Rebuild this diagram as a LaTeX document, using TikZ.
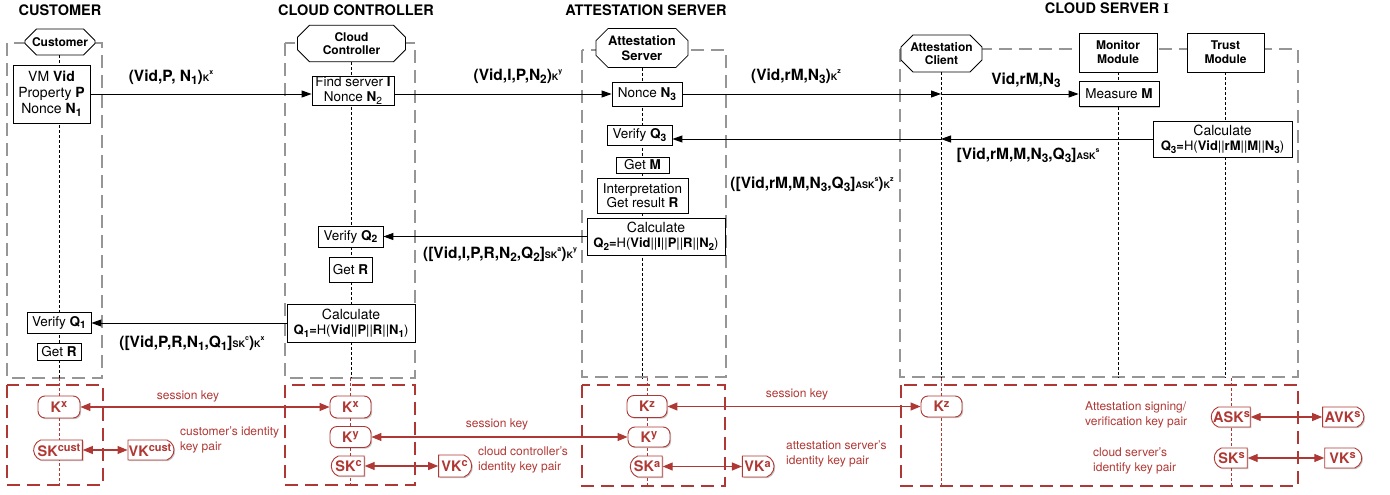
\documentclass[tikz,border=0pt]{standalone}
\usepackage{fontspec}
\setmainfont{TeX Gyre Heros}
\newfontfamily\serifI{Liberation Serif}
\usetikzlibrary{shapes.misc,arrows.meta,shadows,backgrounds}
\definecolor{keyred}{RGB}{176,56,52}
\definecolor{grpgray}{RGB}{150,150,150}
% index helpers
\newcommand\lo[1]{\raisebox{-0.38ex}{\scalebox{0.76}{#1}}}
\newcommand\ksup[1]{\raisebox{0.62ex}{\fontsize{11}{11}\selectfont #1}}
\newcommand\kk[2]{{\fontsize{9}{9}\selectfont #1}\raisebox{0.75ex}{\fontsize{7}{7}\selectfont #2}}

\begin{document}
\begin{tikzpicture}[x=1pt,y=-1pt,
  title/.style={font=\bfseries\fontsize{14.5}{16}\selectfont, inner sep=0pt},
  softshadow/.style={drop shadow={shadow xshift=1.2pt, shadow yshift=-1.2pt, opacity=0.22, fill=black}},
  head/.style={draw, line width=0.8pt, fill=white, chamfered rectangle,
    chamfered rectangle xsep=6pt, chamfered rectangle ysep=6pt, align=center,
    font=\bfseries\fontsize{12}{13.5}\selectfont, inner sep=1pt},
  headbox/.style={draw, line width=0.8pt, fill=white, rectangle, align=center,
    font=\bfseries\fontsize{12}{14}\selectfont, inner sep=1pt, softshadow},
  act/.style={draw, line width=0.8pt, fill=white, align=center,
    font=\fontsize{13.5}{14.5}\selectfont, inner xsep=3pt, inner ysep=1pt, softshadow},
  calc/.style={act, font=\fontsize{13}{15}\selectfont},
  msg/.style={line width=0.9pt, -{Triangle[length=10pt,width=7pt]}},
  mlabel/.style={font=\bfseries\fontsize{15.5}{17}\selectfont, inner sep=0pt},
  grpbox/.style={draw=grpgray, line width=2.6pt, dash pattern=on 13pt off 7pt},
  keybox/.style={draw=keyred, line width=2.6pt, dash pattern=on 13pt off 7pt},
  life/.style={line width=0.7pt, dash pattern=on 3pt off 2pt},
  keylife/.style={draw=keyred, line width=0.7pt, dash pattern=on 3pt off 2pt},
  key/.style={draw=keyred, text=keyred, fill=white, line width=0.9pt,
    font=\bfseries\fontsize{14.5}{14.5}\selectfont, inner xsep=2pt, inner ysep=1pt, softshadow},
  kround/.style={key, rectangle, rounded corners=7pt},
  kleft/.style={key, rounded rectangle, rounded rectangle right arc=none,
    rounded rectangle arc length=140},
  kright/.style={key, rounded rectangle, rounded rectangle left arc=none,
    rounded rectangle arc length=140},
  keyarrow/.style={draw=keyred, line width=1.1pt,
    {Triangle[length=10pt,width=8pt]}-{Triangle[length=10pt,width=8pt]}},
  keynote/.style={text=keyred, font=\fontsize{12}{15}\selectfont, align=left, inner sep=0pt}
]
\useasboundingbox (0,0) rectangle (1390,495);

% column titles
\node[title] (tcust) at (60,10) {CUSTOMER};
\node[title] (tctrl) at (356,10) {CLOUD CONTROLLER};
\node[title] (tatt) at (646,10) {ATTESTATION SERVER};
\node[title] (tsrv) at (1107,8) {CLOUD SERVER {\serifI I}};

% participants
\node[head, minimum width=70, minimum height=26] (hcust) at (60,42) {Customer};
\node[head, minimum width=108, minimum height=29] (hctrl) at (351.5,43.5) {Cloud\\Controller};
\node[head, minimum width=92, minimum height=38, font=\bfseries\fontsize{13}{15}\selectfont] (hatt) at (642,48) {Attestation\\Server};
\node[head, minimum width=81, minimum height=37] (hcli) at (941.5,53.5) {Attestation\\Client};
\node[headbox, minimum width=78, minimum height=39] (hmon) at (1118,52.5) {Monitor\\Module};
\node[headbox, minimum width=77, minimum height=39] (htru) at (1225.5,52.5) {Trust\\Module};

% activity boxes
\node[act, minimum width=77, minimum height=58, font=\fontsize{14}{16}\selectfont] (vm) at (51.5,94)
  {VM \textbf{Vid}\\Property \textbf{P}\\Nonce \textbf{N\lo{1}}};
\node[act, minimum width=82, minimum height=29] (find) at (353,90.5)
  {Find server \textbf{I}\\Nonce \textbf{N}\lo{2}};
\node[act, minimum width=70, minimum height=24] (nonce3) at (647,94) {Nonce \textbf{N\lo{3}}};
\node[act, minimum width=80, minimum height=25] (measure) at (1119,94) {Measure \textbf{M}};
\node[calc, minimum width=139, minimum height=36] (calc3) at (1222.5,139)
  {{\fontsize{14}{15}\selectfont Calculate}\\\textbf{Q\lo{3}=}H(\textbf{Vid}||\textbf{rM}||\textbf{M}||\textbf{N\lo{3}})};
\node[act, minimum width=65, minimum height=20] (verify3) at (639.5,135) {Verify \textbf{Q\lo{3}}};
\node[act, minimum width=53, minimum height=16] (getm) at (642.5,165) {Get \textbf{M}};
\node[act, minimum width=91, minimum height=35] (interp) at (642.5,195.5) {Interpretation\\Get result \textbf{R}};
\node[calc, minimum width=138, minimum height=37] (calc2) at (656,236.5)
  {{\fontsize{14}{15}\selectfont Calculate}\\\textbf{Q\lo{2}=}H(\textbf{Vid}||\textbf{I}||\textbf{P}||\textbf{R}||\textbf{N\lo{2}})};
\node[act, minimum width=65, minimum height=21] (verify2) at (350.5,236.5) {Verify \textbf{Q\lo{2}}};
\node[act, minimum width=43, minimum height=25] (getr2) at (350.5,269.5) {Get \textbf{R}};
\node[calc, minimum width=128, minimum height=38] (calc1) at (351,323)
  {{\fontsize{14}{15}\selectfont Calculate}\\\textbf{Q\lo{1}=}H(\textbf{Vid}||\textbf{P}||\textbf{R}||\textbf{N\lo{1}})};
\node[act, minimum width=64, minimum height=21] (verify1) at (59,322.5) {Verify \textbf{Q\lo{1}}};
\node[act, minimum width=44, minimum height=17] (getr1) at (59,351.5) {Get \textbf{R}};

% keys
\node[kround, minimum width=42, minimum height=22] (kx1) at (59,407) {K\ksup{x}};
\node[kleft, minimum width=48, minimum height=20] (sk1) at (59,450) {SK\ksup{cust}};
\node[kright, minimum width=50, minimum height=20] (vk1) at (150,450) {VK\ksup{cust}};
\node[kround, minimum width=41, minimum height=22] (kx2) at (350.5,407) {K\ksup{x}};
\node[kround, minimum width=41, minimum height=21] (ky2) at (350.5,437) {K\ksup{y}};
\node[kleft, minimum width=37, minimum height=20] (sk2) at (348.5,466) {SK\ksup{c}};
\node[kright, minimum width=37, minimum height=22] (vk2) at (454.5,466) {VK\ksup{c}};
\node[kround, minimum width=40, minimum height=22] (kz3) at (647,406.5) {K\ksup{z}};
\node[kround, minimum width=42, minimum height=20] (ky3) at (649,437) {K\ksup{y}};
\node[kleft, minimum width=36, minimum height=21] (sk3) at (647,466.5) {SK\ksup{a}};
\node[kright, minimum width=31, minimum height=21] (vk3) at (757.5,466.5) {VK\ksup{a}};
\node[kround, minimum width=41, minimum height=21] (kzc) at (941.5,406.5) {K\ksup{z}};
\node[kleft, minimum width=43, minimum height=20] (ask) at (1231.5,417) {ASK\ksup{s}};
\node[kright, minimum width=41, minimum height=20] (avk) at (1342.5,417) {AVK\ksup{s}};
\node[kleft, minimum width=37, minimum height=20] (sks) at (1231.5,458) {SK\ksup{s}};
\node[kright, minimum width=41, minimum height=20] (vks) at (1342.5,458) {VK\ksup{s}};

% lifeline ends
\coordinate (xcli) at (941,0);
\coordinate (gbot) at (0,378);
\coordinate (rbot) at (0,486);

\begin{scope}[on background layer]
  % group frames
  \draw[grpbox] (7,43) rectangle (102,378);
  \draw[grpbox] (285,43) rectangle (415,378);
  \draw[grpbox] (582,50) rectangle (726,377);
  \draw[grpbox] (900,49) rectangle (1298,377);
  \draw[keybox] (7,385) rectangle (103,485);
  \draw[keybox] (285,385) rectangle (415,485);
  \draw[keybox] (582,385) rectangle (725,486);
  \draw[keybox] (901,385) rectangle (1298,486);
  % lifelines
  \draw[life] (hcust.south -| getr1) -- (getr1 |- gbot);
  \draw[life] (hctrl.south) -- (hctrl.south |- gbot);
  \draw[life] (hatt.south) -- (hatt.south |- gbot);
  \draw[life] (hcli.south -| xcli) -- (xcli |- gbot);
  \draw[life] (hmon.south) -- (hmon.south |- gbot);
  \draw[life] (htru.south) -- (htru.south |- gbot);
  \draw[keylife] (kx1 |- gbot) -- (kx1 |- rbot);
  \draw[keylife] (kx2 |- gbot) -- (kx2 |- rbot);
  \draw[keylife] (kz3 |- gbot) -- (kz3 |- rbot);
  \draw[keylife] (kzc |- gbot) -- (kzc |- rbot);
  \draw[keylife] (ask |- gbot) -- (ask |- rbot);
\end{scope}

% messages
\draw[msg] (vm.east) -- (vm.east -| find.west);
\node[mlabel] (m1) at (171,77) {(Vid,P, N\lo{1})\kk{K}{x}};
\draw[msg] (find.east |- nonce3) -- (nonce3.west);
\node[mlabel] (m2) at (518,76) {(Vid,I,P,N\lo{2})\kk{K}{y}};
\draw[msg] (nonce3.east) -- (nonce3.east -| xcli);
\node[mlabel] (m3) at (796,76) {(Vid,rM,N\lo{3})\kk{K}{z}};
\draw[msg] (nonce3.east -| xcli) -- (measure.west);
\node[mlabel] (m4) at (1026,80) {Vid,rM,N\lo{3}};
\draw[msg] (calc3.west) -- (calc3.west -| xcli);
\node[mlabel] (m5) at (1028,155) {[Vid,rM,M,N\lo{3},Q\lo{3}]\kk{ASK}{s}};
\draw[msg] (calc3.west -| xcli) -- (calc3.west -| verify3.east);
\node[mlabel] (m6) at (812,184) {([Vid,rM,M,N\lo{3},Q\lo{3}]\kk{ASK}{s})\kk{K}{z}};
\draw[msg] (calc2.west) -- (calc2.west -| verify2.east);
\node[mlabel] (m7) at (500,254) {([Vid,I,P,R,N\lo{2},Q\lo{2}]\kk{SK}{a})\kk{K}{y}};
\draw[msg] (calc1.west) -- (calc1.west -| verify1.east);
\node[mlabel] (m8) at (192,343) {([Vid,P,R,N\lo{1},Q\lo{1}]\kk{SK}{c})\kk{K}{x}};

% key relations
\draw[keyarrow] (kx1.east) -- (kx2.west);
\node[keynote] (n1) at (188,396) {session key};
\draw[keyarrow] (sk1.east) -- (vk1.west);
\node[keynote, anchor=west] (n2) at (180,440) {customer’s identity\\key pair};
\draw[keyarrow] (ky2.east) -- (ky3.west);
\node[keynote] (n3) at (497,424) {session key};
\draw[keyarrow] (sk2.east) -- (vk2.west);
\node[keynote, anchor=west] (n4) at (478,459.5) {cloud controller’s\\identity key pair};
\draw[keyarrow] (kz3.east) -- (kzc.west);
\node[keynote] (n5) at (797,394) {session key};
\draw[keyarrow] (sk3.east) -- (vk3.west);
\node[keynote, anchor=west] (n6) at (786,453.5) {attestation server’s\\identity key pair};
\draw[keyarrow] (ask.east) -- (avk.west);
\node[keynote, anchor=west] (n7) at (1085,415) {Attestation signing/\\verification key pair};
\draw[keyarrow] (sks.east) -- (vks.west);
\node[keynote, anchor=west] (n8) at (1093,461) {cloud server’s\\identify key pair};
\end{tikzpicture}
\end{document}
